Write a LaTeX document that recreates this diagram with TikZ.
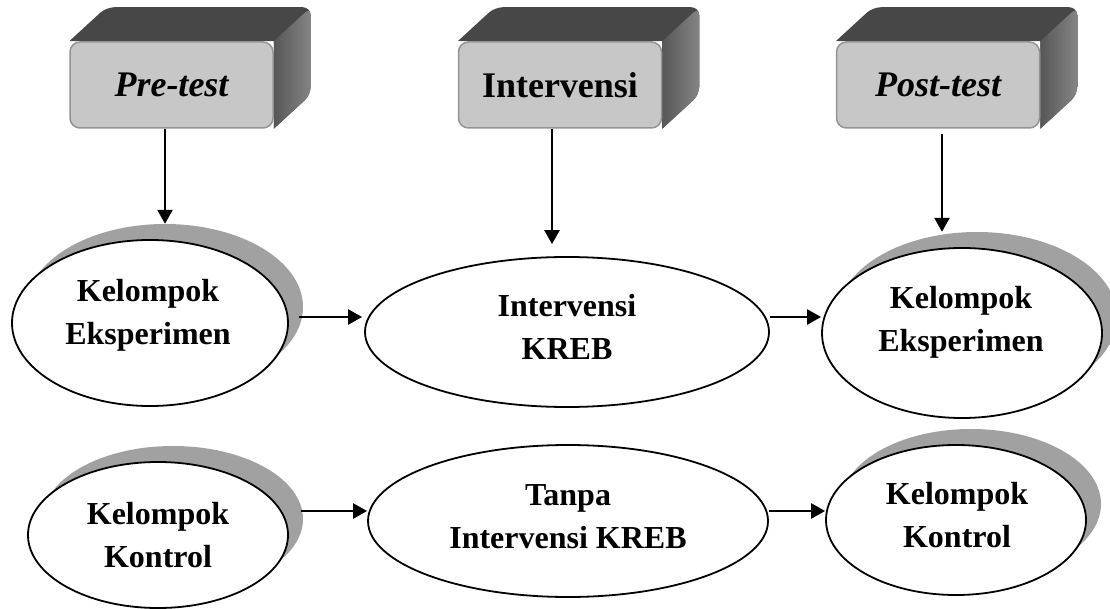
\documentclass[tikz,border=0pt]{standalone}
\usepackage{fontspec}
\setmainfont{Liberation Serif}
\usepackage{tikz}
\usetikzlibrary{arrows.meta,shapes.geometric,backgrounds}

\begin{document}
\begin{tikzpicture}[x=1pt, y=-1pt,
  front/.style={draw=black!42, line width=1.5pt, fill=black!22,
    rounded corners=10pt, minimum width=203pt, minimum height=86pt,
    inner sep=0pt, font=\fontsize{36}{43}\selectfont\bfseries},
  topface/.style={fill=black!72},
  sideface/.style={left color=black!66, right color=black!48},
  dims/.style 2 args={minimum width=#1, minimum height=#2},
  oval/.style={ellipse, draw=black, line width=1.8pt, fill=white, inner sep=0pt},
  ovalshadow/.style={ellipse, fill=black!37, inner sep=0pt},
  ovaltext/.style={align=center, inner sep=0pt,
    font=\fontsize{32}{43}\selectfont\bfseries},
  flow/.style={-{Triangle[length=14pt,width=15pt]}, line width=2.5pt}
]
\useasboundingbox (0,0) rectangle (1110,609);

% top row: 3d boxes
\node[front] (pre) at (171.5,85) {\itshape Pre-test};
\node[front] (intv) at (560,85) {Intervensi};
\node[front] (post) at (938,85) {\itshape Post-test};

\begin{scope}[on background layer]
\foreach \b in {pre,intv,post} {
  \fill[topface] (\b.north west) [rounded corners=8pt]
    -- ([shift={(37pt,34pt)}]\b.north west)
    -- ([shift={(37pt,34pt)}]\b.north east)
    -- ([shift={(37pt,34pt)}]\b.south east) [sharp corners]
    -- (\b.south east) -- (\b.north east) -- cycle;
  \shade[sideface] (\b.north east) [rounded corners=8pt]
    -- ([shift={(37pt,34pt)}]\b.north east)
    -- ([shift={(37pt,34pt)}]\b.south east) [sharp corners]
    -- (\b.south east) -- cycle;
}
\end{scope}

% groups
\node[ovalshadow, dims={276pt}{166pt}] (eks1s) at (165,307) {};
\node[oval, dims={276pt}{166pt}] (eks1) at (150,323) {};
\node[oval, dims={404pt}{150pt}] (kreb) at (567,332) {};
\node[ovalshadow, dims={280pt}{170pt}] (eks2s) at (977,317) {};
\node[oval, dims={280pt}{170pt}] (eks2) at (962,333) {};

\node[ovalshadow, dims={260pt}{146pt}] (kon1s) at (173,519) {};
\node[oval, dims={260pt}{146pt}] (kon1) at (158,535) {};
\node[oval, dims={400pt}{152pt}] (tanpa) at (568,521) {};
\node[ovalshadow, dims={260pt}{150pt}] (kon2s) at (971,504) {};
\node[oval, dims={260pt}{150pt}] (kon2) at (956,520) {};

\node[ovaltext] (eks1t) at (148,315.5) {Kelompok\\Eksperimen};
\node[ovaltext] (krebt) at (567,326.5) {Intervensi\\KREB};
\node[ovaltext] (eks2t) at (961,322) {Kelompok\\Eksperimen};
\node[ovaltext] (kon1t) at (158,535) {Kelompok\\Kontrol};
\node[ovaltext] (tanpat) at (568,516.5) {Tanpa\\Intervensi KREB};
\node[ovaltext] (kon2t) at (957,515) {Kelompok\\Kontrol};

% arrows
\draw[flow] (pre.south -| eks1s.north) -- (eks1s.north);
\draw[flow] ([xshift=-8pt]intv.south) -- ([shift={(-15pt,12pt)}]kreb.north);
\draw[flow] ([shift={(4pt,-5pt)}]post.south) -- ([xshift=-35pt]eks2s.north);

\draw[flow] ([shift={(10pt,6pt)}]eks1.east) -- ([shift={(-2pt,15pt)}]kreb.west);
\draw[flow] ([yshift=15pt]kreb.east) -- ([yshift=16pt]eks2.west);
\draw[flow] ([shift={(12pt,24pt)}]kon1.east) -- ([yshift=10pt]tanpa.west);
\draw[flow] ([yshift=10pt]tanpa.east) -- ([yshift=9pt]kon2.west);
\end{tikzpicture}
\end{document}
